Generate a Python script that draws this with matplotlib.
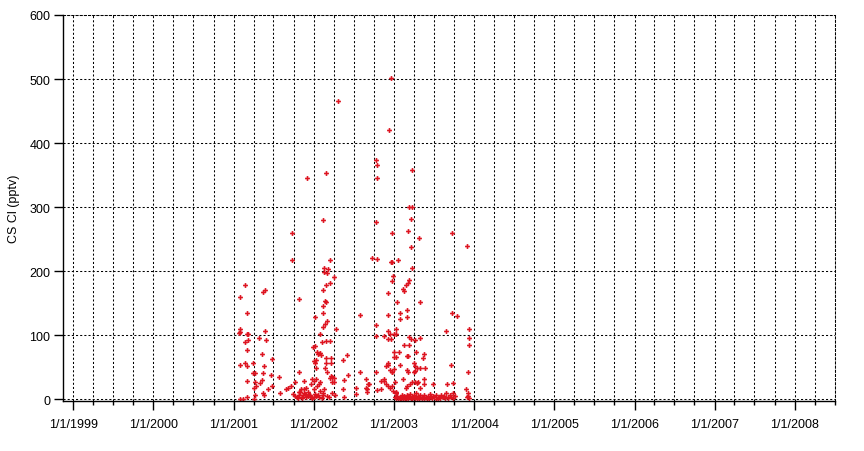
import matplotlib
matplotlib.use('Agg')
import matplotlib.pyplot as plt
import matplotlib.dates as mdates
from matplotlib.ticker import FuncFormatter
from datetime import datetime, timedelta

# sample times as decimal years, CS Cl in pptv
t_2001 = [2001.14, 2001.08, 2001.36, 2001.39, 2001.82, 2001.17, 2001.08, 2001.08, 2001.07, 2001.17,
          2001.18, 2001.39, 2001.31, 2001.40, 2001.18, 2001.14, 2001.17, 2001.35, 2001.48, 2001.08,
          2001.14, 2001.17, 2001.24, 2001.38, 2001.27, 2001.24, 2001.37, 2001.46, 2001.17, 2001.57,
          2001.26, 2001.35, 2001.33, 2001.28, 2001.25, 2001.48, 2001.43, 2001.37, 2001.38, 2001.58,
          2001.16, 2001.12, 2001.08, 2001.25, 2001.27, 2001.81, 2001.77, 2001.68, 2001.71, 2001.65,
          2001.74, 2001.77, 2001.81, 2001.85, 2001.89, 2001.93, 2001.81, 2001.84, 2001.90, 2001.96,
          2001.73, 2001.73, 2001.91, 2001.79, 2001.80, 2001.88, 2001.88, 2001.92, 2001.83, 2001.94,
          2001.86, 2001.85, 2001.87, 2001.90, 2001.95, 2001.97]
v_2001 = [178, 159, 167, 171, 157, 134, 109, 105, 103, 102,
          102, 106, 96, 93, 93, 89, 77, 70, 62, 54,
          56, 51, 57, 52, 40, 40, 40, 38, 29, 35,
          27, 30, 25, 21, 17, 21, 15, 9, 6, 10,
          4, 0, 0, 0, 7, 43, 26, 18, 20, 16,
          8, 5, 7, 4, 8, 5, 11, 16, 18, 23,
          259, 217, 346, 4, 2, 29, 15, 11, 11, 7,
          7, 2, 9, 3, 6, 1]

t_2002 = [2002.30, 2002.15, 2002.12, 2002.20, 2002.13, 2002.18, 2002.13, 2002.16, 2002.25, 2002.20,
          2002.15, 2002.12, 2002.14, 2002.15, 2002.11, 2002.12, 2002.02, 2002.17, 2002.14, 2002.28,
          2002.11, 2002.08, 2002.10, 2002.15, 2002.20, 2001.99, 2002.05, 2002.09, 2002.08, 2002.21,
          2002.15, 2002.00, 2002.03, 2002.02, 2002.15, 2002.21, 2002.41, 2002.36, 2002.03, 2002.14,
          2002.57, 2002.17, 2002.21, 2002.23, 2002.20, 2002.25, 2001.98, 2002.00, 2002.03, 2002.08,
          2002.06, 2002.22, 2002.25, 2002.36, 2002.53, 2002.03, 2002.05, 2002.11, 2002.17, 2002.00,
          2002.04, 2002.08, 2002.13, 2002.38, 2001.96, 2002.00, 2002.04, 2002.02, 2002.58, 2002.37,
          2002.53, 2002.65, 2002.67, 2002.01, 2002.06, 2002.10, 2002.12, 2002.19, 2002.23, 2002.26,
          2002.42]
v_2002 = [465, 353, 279, 218, 204, 203, 198, 197, 190, 182,
          178, 170, 153, 151, 146, 134, 128, 122, 118, 110,
          112, 102, 89, 90, 90, 82, 71, 69, 72, 64,
          64, 59, 61, 57, 56, 57, 69, 61, 48, 48,
          42, 43, 36, 35, 33, 33, 31, 28, 31, 27,
          23, 26, 26, 16, 17, 5, 6, 6, 5, 16,
          20, 12, 16, 4, 4, 3, 73, 83, 132, 30,
          8, 31, 23, 8, 3, 2, 9, 4, 10, 7,
          37]

t_2003 = [2002.96, 2002.94, 2002.78, 2002.79, 2002.79, 2003.22, 2003.19, 2003.23, 2002.77, 2003.21,
          2002.97, 2003.17, 2003.72, 2003.31, 2003.21, 2003.91, 2002.73, 2002.79, 2002.96, 2002.98,
          2003.05, 2003.22, 2002.99, 2002.98, 2003.19, 2003.18, 2003.15, 2003.11, 2003.13, 2002.93,
          2003.04, 2003.32, 2002.93, 2003.07, 2003.07, 2003.16, 2003.16, 2003.72, 2003.79, 2003.65,
          2003.93, 2003.93, 2003.93, 2002.77, 2002.78, 2002.87, 2002.92, 2002.95, 2003.00, 2003.02,
          2003.03, 2002.92, 2002.96, 2003.19, 2003.21, 2003.26, 2003.32, 2003.19, 2003.12, 2003.06,
          2003.00, 2003.28, 2003.38, 2003.36, 2003.00, 2003.03, 2003.16, 2003.18, 2002.92, 2002.93,
          2002.90, 2003.07, 2002.95, 2003.00, 2002.98, 2003.16, 2003.18, 2003.26, 2003.26, 2003.29,
          2003.33, 2003.39, 2002.78, 2003.11, 2002.87, 2002.88, 2002.84, 2002.90, 2002.93, 2002.98,
          2002.79, 2002.84, 2002.66, 2002.66, 2002.69, 2003.71, 2003.92, 2003.92, 2003.92, 2003.90,
          2003.66, 2003.22, 2003.20, 2003.30, 2003.33, 2003.38, 2003.49, 2003.15, 2003.25, 2003.25,
          2002.97, 2003.38, 2003.01, 2003.26, 2003.29, 2002.95, 2003.16, 2003.74, 2002.65, 2002.99,
          2003.02, 2003.91, 2003.93, 2003.02, 2003.03]
v_2003 = [501, 421, 373, 365, 345, 358, 300, 300, 276, 281,
          259, 263, 259, 252, 237, 239, 220, 219, 214, 214,
          217, 204, 192, 184, 186, 181, 178, 172, 169, 165,
          151, 151, 132, 135, 125, 139, 129, 135, 130, 106,
          110, 96, 85, 115, 98, 99, 106, 101, 102, 109,
          101, 94, 94, 97, 94, 92, 95, 84, 85, 74,
          74, 74, 71, 64, 66, 66, 67, 67, 56, 53,
          52, 54, 46, 47, 43, 46, 43, 52, 44, 49,
          49, 49, 43, 32, 31, 29, 28, 23, 20, 20,
          14, 16, 16, 11, 23, 54, 43, 9, 5, 16,
          23, 27, 23, 27, 18, 23, 23, 17, 57, 43,
          42, 32, 27, 27, 25, 18, 20, 25, 17, 12,
          10, 4, 1, 11, 9]

# near-zero readings, spring-summer 2003
t_low = [2003.01, 2003.03, 2003.04, 2003.05, 2003.07, 2003.08, 2003.09, 2003.10, 2003.11, 2003.12,
         2003.13, 2003.14, 2003.15, 2003.16, 2003.17, 2003.18, 2003.19, 2003.20, 2003.21, 2003.22,
         2003.23, 2003.24, 2003.25, 2003.26, 2003.27, 2003.28, 2003.29, 2003.30, 2003.31, 2003.32,
         2003.33, 2003.35, 2003.36, 2003.37, 2003.38, 2003.40, 2003.41, 2003.42, 2003.44, 2003.45,
         2003.46, 2003.48, 2003.49, 2003.50, 2003.52, 2003.53, 2003.55, 2003.56, 2003.58, 2003.59,
         2003.61, 2003.62, 2003.64, 2003.65, 2003.67, 2003.68, 2003.70, 2003.71, 2003.73, 2003.74,
         2003.76]
v_low = [3, 1, 5, 2, 0, 4, 2, 6, 1, 3,
         5, 0, 2, 7, 3, 1, 4, 8, 2, 5,
         0, 3, 6, 1, 4, 9, 2, 5, 0, 3,
         7, 2, 4, 1, 6, 3, 0, 5, 2, 8,
         4, 1, 5, 3, 0, 6, 2, 4, 1, 7,
         3, 5, 2, 9, 4, 1, 6, 3, 10, 2,
         5]


def to_date(t):
    y = int(t)
    return datetime(y, 1, 1) + timedelta(days=(t - y) * 365.25)


plt.rcParams['font.family'] = ['Liberation Sans', 'DejaVu Sans']
plt.rcParams['font.size'] = 9

fig = plt.figure(figsize=(8.64, 4.52), dpi=100)
ax = fig.add_axes([63 / 864, 1 - 402 / 452, 771.7 / 864, 386 / 452])

for ts, vs in [(t_2001, v_2001), (t_2002, v_2002), (t_2003, v_2003), (t_low, v_low)]:
    ax.plot([to_date(t) for t in ts], vs, linestyle='none', marker='P',
            markersize=3.5, markeredgewidth=0, color='#dd1420', clip_on=False)

ax.set_xlim(datetime(1998, 11, 15), datetime(2008, 7, 1))
ax.set_ylim(-3, 600)
ax.set_yticks(range(0, 601, 100))

ax.xaxis.set_major_locator(mdates.YearLocator())
ax.xaxis.set_minor_locator(mdates.MonthLocator(bymonth=[1, 4, 7, 10]))


def fmt_date(x, pos):
    d = mdates.num2date(x)
    return f'{d.month}/{d.day}/{d.year}'


ax.xaxis.set_major_formatter(FuncFormatter(fmt_date))

dots = (0, (2, 2))
ax.grid(True, which='both', axis='x', linestyle=dots, color='black', linewidth=0.75)
ax.grid(True, which='major', axis='y', linestyle=dots, color='black', linewidth=0.75)
ax.set_axisbelow(True)

for side in ['top', 'right']:
    ax.spines[side].set_linestyle(dots)
    ax.spines[side].set_linewidth(0.75)
for side in ['left', 'bottom']:
    ax.spines[side].set_linewidth(1)

ax.tick_params(axis='x', which='major', length=6.3, width=1, pad=6)
ax.tick_params(axis='x', which='minor', length=3.2, width=1)
ax.tick_params(axis='y', which='major', length=6.5, width=1, pad=2.5)

ax.set_ylabel('CS Cl (pptv)')
ax.yaxis.set_label_coords(-0.056, 0.5)

fig.savefig('out.png', dpi=100)
